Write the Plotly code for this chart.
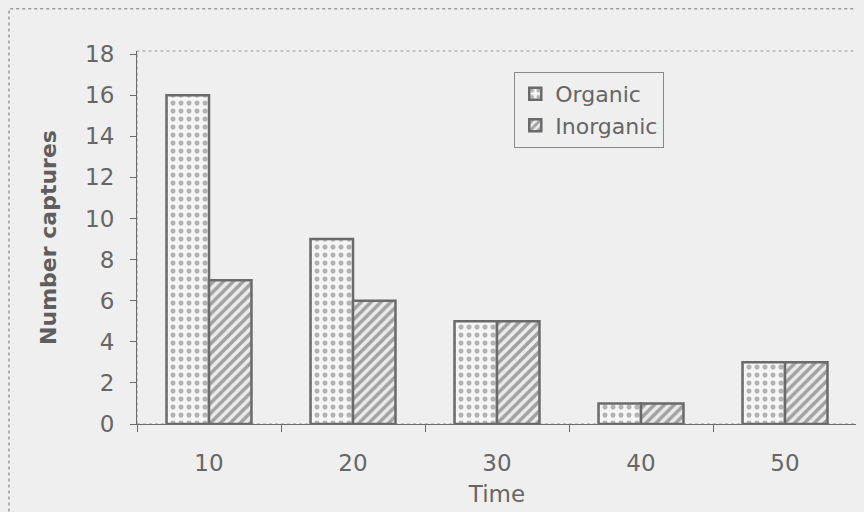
import plotly.graph_objects as go

times = ["10", "20", "30", "40", "50"]
organic = [16, 9, 5, 1, 3]
inorganic = [7, 6, 5, 1, 3]
yticks = [0, 2, 4, 6, 8, 10, 12, 14, 16, 18]

txt = "#666666"
edge = "#6a6a6a"
bg = "#efefef"

fig = go.Figure()
fig.add_bar(
    x=times, y=organic, name="Organic",
    marker=dict(color="#f6f6f6", line=dict(color=edge, width=2.5),
                pattern=dict(shape=".", fgcolor="#707070", bgcolor="#f6f6f6",
                             size=8, solidity=0.32)),
)
fig.add_bar(
    x=times, y=inorganic, name="Inorganic",
    marker=dict(color="#e8e8e8", line=dict(color=edge, width=2.5),
                pattern=dict(shape="/", fgcolor="#555555", bgcolor="#ececec",
                             size=7, solidity=0.5)),
)

fig.update_layout(
    width=856, height=504,
    margin=dict(l=129, r=7, t=43, b=88),
    paper_bgcolor=bg, plot_bgcolor=bg,
    barmode="group", bargap=0.41, bargroupgap=0,
    font=dict(family="DejaVu Sans", size=23, color=txt),
    showlegend=True,
    legend=dict(x=0.524, y=0.944, xanchor="left", yanchor="top",
                bgcolor=bg, bordercolor="#888888", borderwidth=1,
                font=dict(size=22, color=txt)),
    xaxis=dict(
        type="category", tickson="boundaries", ticks="outside", ticklen=7,
        tickcolor=edge, showline=True, linecolor=edge, linewidth=1,
        showgrid=False, ticklabelstandoff=18, automargin=False,
        title=dict(text="Time", standoff=11, font=dict(size=23, color=txt)),
    ),
    yaxis=dict(
        range=[0, 18.15], tickvals=yticks, ticks="outside", ticklen=6,
        tickcolor=edge, showline=True, linecolor=edge, linewidth=1,
        showgrid=False, zeroline=False, ticklabelstandoff=11, automargin=False,
        title=dict(text="<b>Number captures</b>", standoff=22,
                   font=dict(size=22, color="#5e5e5e")),
    ),
    shapes=[
        dict(type="rect", xref="paper", yref="paper", x0=0, x1=1.001, y0=0, y1=1.0,
             line=dict(color="#999999", width=1, dash="dot"), layer="below"),
        dict(type="rect", xref="paper", yref="paper", x0=-0.1778, x1=1.007,
             y0=-0.26, y1=1.113, line=dict(color="#999999", width=1.5, dash="dot")),
    ],
)

fig.write_html("out.html",
               post_script="document.body.style.background='#efefef';")
